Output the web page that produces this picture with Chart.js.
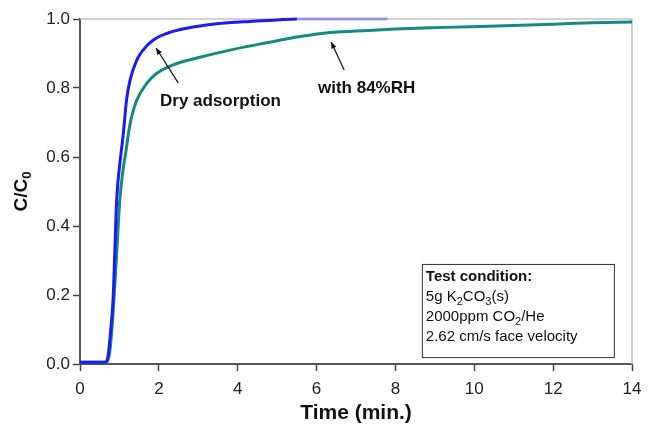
<!DOCTYPE html>
<html>
<head>
<meta charset="utf-8">
<script src="https://cdn.jsdelivr.net/npm/chart.js@4.4.1/dist/chart.umd.min.js"></script>
<style>
  html, body { margin: 0; padding: 0; background: #fff; }
  #wrap { width: 658px; height: 427px; }
</style>
</head>
<body>
<div id="wrap"><canvas id="breakthrough" width="658" height="427"></canvas></div>
<script>
// Breakthrough curves, C/C0 vs time (min.)
var timeDry = [0, 0.4, 0.66, 0.72, 0.78, 0.84, 0.93, 1.03, 1.1, 1.18, 1.27, 1.44, 1.6, 1.86, 2.2, 2.7, 3.47, 4.31, 5.0, 5.5, 6.5, 7.8];
var cDry    = [0.005, 0.005, 0.006, 0.03, 0.1, 0.19, 0.475, 0.6, 0.669, 0.765, 0.823, 0.881, 0.91, 0.939, 0.958, 0.973, 0.986, 0.993, 0.997, 1.0, 1.0, 1.0];

var timeRH = [0, 0.4, 0.68, 0.76, 0.84, 0.92, 1.01, 1.1, 1.17, 1.23, 1.31, 1.44, 1.69, 1.94, 2.36, 3.04, 3.89, 4.73, 5.58, 6.34, 7.0, 8.0, 9.0, 10.57, 12.0, 13.0, 14.0];
var cRH    = [0.005, 0.005, 0.006, 0.04, 0.15, 0.3, 0.475, 0.57, 0.62, 0.669, 0.717, 0.765, 0.813, 0.842, 0.867, 0.889, 0.912, 0.931, 0.949, 0.961, 0.965, 0.971, 0.975, 0.98, 0.985, 0.989, 0.991];

var xTicks = [0, 2, 4, 6, 8, 10, 12, 14];
var yTicks = [0, 0.2, 0.4, 0.6, 0.8, 1.0];

var FONT = '"Liberation Sans", Arial, sans-serif';

function toPoints(xs, ys) {
    return xs.map(function(x, i) { return { x: x, y: ys[i] }; });
}

// draws a run of [text, isSubscript] pieces starting at x, baseline y
function drawRich(ctx, parts, x, y, size, weight) {
    parts.forEach(function(p) {
        var s = p[1] ? Math.round(size * 0.7) : size;
        ctx.font = weight + ' ' + s + 'px ' + FONT;
        ctx.fillText(p[0], x, p[1] ? y + size * 0.28 : y);
        x += ctx.measureText(p[0]).width;
    });
    return x;
}

function arrow(ctx, x1, y1, x2, y2) {
    var a = Math.atan2(y2 - y1, x2 - x1);
    ctx.beginPath();
    ctx.moveTo(x1, y1);
    ctx.lineTo(x2, y2);
    ctx.stroke();
    ctx.beginPath();
    ctx.moveTo(x2, y2);
    ctx.lineTo(x2 - 7 * Math.cos(a - 0.4), y2 - 7 * Math.sin(a - 0.4));
    ctx.lineTo(x2 - 7 * Math.cos(a + 0.4), y2 - 7 * Math.sin(a + 0.4));
    ctx.closePath();
    ctx.fill();
}

var decorations = {
    id: 'decorations',
    beforeDatasetsDraw: function(chart) {
        var c = chart.ctx, a = chart.chartArea;
        c.save();
        // light frame on top and right
        c.strokeStyle = '#c4c4c4';
        c.lineWidth = 1.5;
        c.beginPath();
        c.moveTo(a.left, a.top);
        c.lineTo(a.right, a.top);
        c.lineTo(a.right, a.bottom);
        c.stroke();
        c.restore();
    },
    afterDatasetsDraw: function(chart) {
        var c = chart.ctx, a = chart.chartArea;
        var xs = chart.scales.x, ys = chart.scales.y;
        var px = function(v) { return xs.getPixelForValue(v); };
        var py = function(v) { return ys.getPixelForValue(v); };
        c.save();
        c.fillStyle = '#111';
        c.strokeStyle = '#111';
        c.lineWidth = 1.2;

        // curve labels with arrows
        arrow(c, px(2.49), py(0.815), px(1.93), py(0.916));
        arrow(c, px(6.70), py(0.852), px(6.37), py(0.933));
        c.textBaseline = 'middle';
        c.font = 'bold 17px ' + FONT;
        c.fillText('Dry adsorption', 160, 101);
        c.fillText('with 84%RH', 318, 88);

        // test condition box
        var bx = px(8.67), by = py(0.29), bw = px(13.54) - bx, bh = py(0.02) - by;
        c.fillStyle = '#fff';
        c.fillRect(bx, by, bw, bh);
        c.strokeStyle = '#333';
        c.lineWidth = 1;
        c.strokeRect(bx + 0.5, by + 0.5, bw, bh);
        c.fillStyle = '#111';
        c.textBaseline = 'alphabetic';
        var tx = bx + 4;
        drawRich(c, [['Test condition:', false]], tx, by + 17, 15, 'bold');
        drawRich(c, [['5g K', false], ['2', true], ['CO', false], ['3', true], ['(s)', false]], tx, by + 37, 15, 'normal');
        drawRich(c, [['2000ppm CO', false], ['2', true], ['/He', false]], tx, by + 57, 15, 'normal');
        drawRich(c, [['2.62 cm/s face velocity', false]], tx, by + 77, 15, 'normal');

        // y axis title C/C0
        c.translate(22, (a.top + a.bottom) / 2);
        c.rotate(-Math.PI / 2);
        c.font = 'bold 19px ' + FONT;
        var w = c.measureText('C/C').width;
        c.font = 'bold 13px ' + FONT;
        w += c.measureText('0').width;
        c.textBaseline = 'middle';
        drawRich(c, [['C/C', false], ['0', true]], -w / 2, 0, 19, 'bold');
        c.restore();
    }
};

new Chart(document.getElementById('breakthrough'), {
    type: 'scatter',
    data: {
        datasets: [
            {
                label: 'Dry adsorption',
                data: toPoints(timeDry, cDry),
                showLine: true,
                borderColor: '#1c1cf2',
                borderWidth: 3,
                pointRadius: 0,
                cubicInterpolationMode: 'monotone',
                clip: 5,
                segment: {
                    borderColor: function(ctx) { return ctx.p0.parsed.x >= 5.5 ? 'rgba(70,70,245,0.45)' : undefined; }
                }
            },
            {
                label: 'with 84%RH',
                data: toPoints(timeRH, cRH),
                showLine: true,
                borderColor: '#148a80',
                borderWidth: 3,
                pointRadius: 0,
                cubicInterpolationMode: 'monotone',
                clip: 5
            }
        ]
    },
    options: {
        responsive: false,
        animation: false,
        layout: { padding: { top: 19, right: 26, left: 0, bottom: 0 } },
        plugins: {
            legend: { display: false },
            tooltip: { enabled: false }
        },
        scales: {
            x: {
                type: 'linear',
                min: 0,
                max: 14,
                afterBuildTicks: function(s) { s.ticks = xTicks.map(function(v) { return { value: v }; }); },
                afterFit: function(s) { s.height = 63; },
                grid: { drawOnChartArea: false, tickLength: 7, tickColor: '#444', tickWidth: 1.5 },
                border: { color: '#555', width: 2 },
                ticks: { color: '#222', font: { family: FONT, size: 17 }, padding: 8, maxRotation: 0 },
                title: { display: true, text: 'Time (min.)', color: '#111', font: { family: FONT, size: 21, weight: 'bold' }, padding: { top: 0, bottom: 1 } }
            },
            y: {
                min: 0,
                max: 1,
                afterBuildTicks: function(s) { s.ticks = yTicks.map(function(v) { return { value: v }; }); },
                afterFit: function(s) { s.width = 80; },
                grid: { drawOnChartArea: false, tickLength: 7, tickColor: '#444', tickWidth: 1.5 },
                border: { color: '#555', width: 2 },
                ticks: { color: '#222', font: { family: FONT, size: 17 }, padding: 3, callback: function(v) { return v.toFixed(1); } }
            }
        }
    },
    plugins: [decorations]
});
</script>
</body>
</html>
